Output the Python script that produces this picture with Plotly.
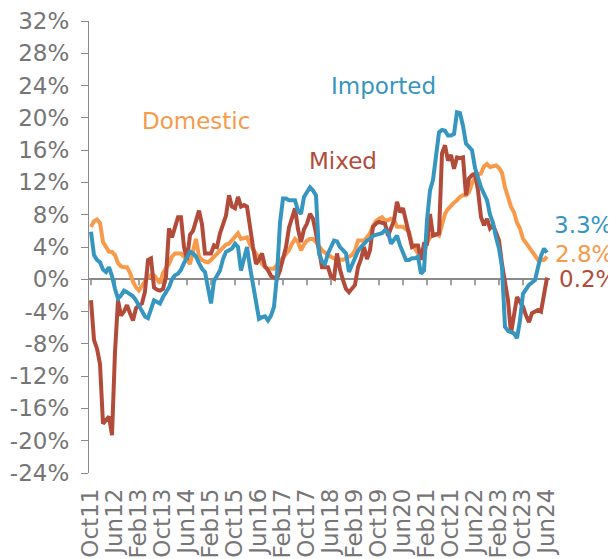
import pandas as pd
import plotly.graph_objects as go

months = list(pd.date_range("2011-10-01", periods=153, freq="MS").strftime("%b%y"))

imported = [
    5.9, 3.0, 2.4, 2.1, 1.2, 0.9, 1.5, 0.4, -1.2, -2.4,
    -2.0, -1.4, -1.6, -1.8, -2.1, -2.6, -3.3, -4.0, -4.6, -4.8,
    -3.8, -2.6, -2.8, -3.0, -2.2, -1.6, -1.0, 0.0, 0.5, 0.7,
    1.2, 2.0, 2.8, 3.4, 3.2, 2.8, 2.0, 1.3, 0.9, -0.8,
    -3.0, -0.2, 0.5, 1.1, 2.5, 3.4, 3.6, 3.8, 4.4, 4.0,
    1.1, 2.5, 4.0, 1.5, -0.5, -2.5, -4.9, -4.7, -4.6, -5.1,
    -4.5, -3.4, 0.5, 7.0, 10.0, 10.0, 9.8, 9.8, 9.8, 8.5,
    8.1, 10.2, 10.8, 11.4, 11.0, 10.4, 3.2, 2.2, 1.9, 3.2,
    4.0, 4.8, 4.7, 4.0, 3.6, 3.2, 0.9, 1.8, 2.8, 3.5,
    4.0, 4.4, 4.8, 5.0, 5.4, 5.5, 5.6, 5.7, 6.1, 5.8,
    4.4, 5.0, 5.4, 4.2, 3.2, 2.4, 2.4, 2.6, 2.6, 2.8,
    0.7, 1.1, 7.3, 11.0, 12.3, 15.0, 18.2, 18.5, 18.4, 17.8,
    17.8, 18.0, 20.7, 20.6, 19.0, 16.8, 16.4, 16.0, 13.8, 12.5,
    11.4, 10.6, 9.8, 8.0, 7.0, 5.2, 3.8, 1.5, -5.9, -6.4,
    -6.6, -6.7, -7.3, -5.1, -1.8, -1.2, -0.7, -0.4, -0.1, 1.5,
    2.9, 3.8, 3.3,
]

domestic = [
    6.5, 7.2, 7.4, 7.0, 4.6, 4.0, 3.4, 3.4, 3.0, 2.0,
    1.6, 1.5, 1.5, 0.8, -0.3, -1.0, -1.4, -0.8, -0.2, 0.3,
    0.5, 0.5, 0.0, -0.5, 0.8, 1.4, 1.9, 2.8, 3.2, 3.2,
    3.2, 2.8, 2.4, 1.9, 3.5, 5.0, 2.8, 2.4, 2.2, 2.1,
    2.4, 2.8, 3.2, 3.6, 4.0, 4.3, 4.4, 4.8, 5.2, 5.7,
    5.0, 5.1, 5.2, 4.3, 3.8, 3.2, 2.6, 1.9, 1.5, 1.3,
    1.3, 1.3, 1.8, 2.3, 2.8, 3.3, 3.6, 4.4, 5.0, 4.6,
    3.6, 4.3, 4.8, 5.0, 5.0, 4.6, 4.0, 3.6, 3.3, 3.0,
    2.8, 2.6, 2.5, 2.4, 2.4, 2.6, 2.8, 3.0, 3.6, 4.8,
    4.8, 4.8, 5.2, 5.7, 6.6, 7.2, 7.5, 7.7, 7.3, 7.3,
    7.5, 7.4, 6.5, 6.5, 6.5, 6.2, 5.9, 4.4, 3.8, 3.2,
    3.0, 3.2, 4.5, 5.2, 5.6, 5.6, 5.4, 7.0, 8.1, 8.7,
    9.2, 9.5, 9.8, 10.2, 10.4, 10.4, 10.8, 11.9, 12.6, 13.0,
    13.1, 14.0, 14.3, 13.9, 14.0, 14.1, 13.8, 13.2, 11.4, 10.0,
    9.0, 8.3, 7.0, 6.3, 5.0, 4.5, 4.0, 3.4, 2.8, 2.4,
    2.4, 2.4, 2.8,
]

mixed = [
    -2.6, -7.5, -8.6, -10.5, -17.9, -17.5, -17.0, -19.3, -9.0, -2.6,
    -4.5, -4.0, -3.2, -4.2, -5.1, -3.6, -3.2, -3.0, -1.5, 2.4,
    2.6, -1.0, -1.3, -1.4, -1.2, 0.3, 6.3, 5.2, 6.5, 7.7,
    7.7, 4.0, 2.4, 5.5, 6.0, 7.3, 8.5, 6.8, 3.2, 3.2,
    3.2, 4.2, 4.0, 5.7, 6.8, 7.9, 10.4, 9.0, 8.8, 10.2,
    9.0, 9.2, 9.0, 6.0, 4.0, 1.9, 2.4, 3.2, 1.6, 1.1,
    0.4, 0.2, 0.1, 1.1, 2.5, 4.0, 6.4, 7.8, 8.8, 6.2,
    4.6, 6.2, 6.9, 8.1, 7.5, 5.7, 3.2, 1.5, 1.5, 1.5,
    0.3, 0.1, 3.2, 1.2, -0.1, -1.2, -1.6, -1.2, -0.7, 1.5,
    2.5, 4.0, 2.5, 3.6, 6.5, 6.9, 7.1, 7.0, 6.9, 5.4,
    6.5, 7.3, 9.6, 8.3, 8.8, 7.0, 5.7, 4.0, 4.2, 4.2,
    2.4, 4.4, 4.4, 8.1, 5.4, 5.6, 5.7, 15.6, 16.6, 14.7,
    15.4, 13.7, 15.1, 15.0, 15.1, 10.4, 12.5, 12.9, 13.1, 11.0,
    7.7, 6.7, 7.5, 6.3, 6.7, 5.8, 4.8, 1.9, -0.4, -2.6,
    -6.7, -4.7, -2.2, -2.8, -3.4, -4.5, -5.3, -4.2, -4.0, -3.8,
    -4.0, -1.8, 0.2,
]

y_ticks = list(range(-24, 33, 4))
y_tick_text = [f"{v}%" for v in y_ticks]
x_tick_idx = list(range(0, len(months), 8))
x_tick_text = [months[i] for i in x_tick_idx]

BLUE = "#3796C0"
ORANGE = "#F79A4B"
RED = "#B34B3A"
GREY = "#767676"
AXIS = "#8A8A8A"
FONT = "DejaVu Sans"

XR = [-0.667, 153]
YR = [-24, 32]
PLOT_H = 559 - 13 - 94
TICK_LEN = 6 * (YR[1] - YR[0]) / PLOT_H   # 6 px expressed in y units
xi = list(range(len(months)))

fig = go.Figure()

# category axis crossing at y = 0 (line + downward tick marks), under the data
fig.add_trace(go.Scatter(x=XR, y=[0, 0], mode="lines", hoverinfo="skip",
                         line=dict(color=AXIS, width=1.6)))
tick_x, tick_y = [], []
for t in x_tick_idx:
    tick_x += [t, t, None]
    tick_y += [0, -TICK_LEN, None]
fig.add_trace(go.Scatter(x=tick_x, y=tick_y, mode="lines", hoverinfo="skip",
                         line=dict(color=AXIS, width=1.6)))

for name, vals, col in [("Domestic", domestic, ORANGE),
                        ("Mixed", mixed, RED),
                        ("Imported", imported, BLUE)]:
    fig.add_trace(go.Scatter(x=xi, y=vals, mode="lines", name=name,
                             line=dict(color=col, width=4), hoverinfo="skip"))

fig.update_layout(
    width=616, height=559,
    # page body has an 8px default margin; margins compensate for it
    margin=dict(l=81, r=74, t=13, b=94, autoexpand=False),
    paper_bgcolor="white", plot_bgcolor="white",
    showlegend=False,
    font=dict(family=FONT, size=23, color=GREY),
    xaxis=dict(range=XR, showgrid=False, zeroline=False, showline=False,
               automargin=False, ticks="",
               tickmode="array", tickvals=x_tick_idx, ticktext=x_tick_text,
               tickangle=-90, ticklabelstandoff=10,
               tickfont=dict(family=FONT, size=23, color=GREY)),
    yaxis=dict(range=YR, showgrid=False, showline=True,
               zeroline=True, zerolinecolor=AXIS, zerolinewidth=1.6,
               automargin=False,
               linecolor=AXIS, linewidth=1.3, ticks="outside", ticklen=7,
               tickwidth=1.3, tickcolor=AXIS, tickmode="array",
               tickvals=y_ticks, ticktext=y_tick_text, ticklabelstandoff=7,
               tickfont=dict(family=FONT, size=23, color=GREY)),
)

inner_labels = [
    ("Imported", 97.4, 24.0, BLUE),
    ("Domestic", 34.9, 19.6, ORANGE),
    ("Mixed", 83.9, 14.7, RED),
]
for text, xv, yv, col in inner_labels:
    fig.add_annotation(x=xv, y=yv, xref="x", yref="y", text=text,
                       showarrow=False, xanchor="center", yanchor="middle",
                       font=dict(family=FONT, size=23, color=col))

end_labels = [
    ("3.3%", 1.0037, 6.7, BLUE),
    ("2.8%", 1.0072, 3.1, ORANGE),
    ("0.2%", 1.0145, 0.0, RED),
]
for text, xp, yv, col in end_labels:
    fig.add_annotation(x=xp, y=yv, xref="paper", yref="y", text=text,
                       showarrow=False, xanchor="left", yanchor="middle",
                       font=dict(family=FONT, size=23, color=col))

fig.write_html("out.html")
